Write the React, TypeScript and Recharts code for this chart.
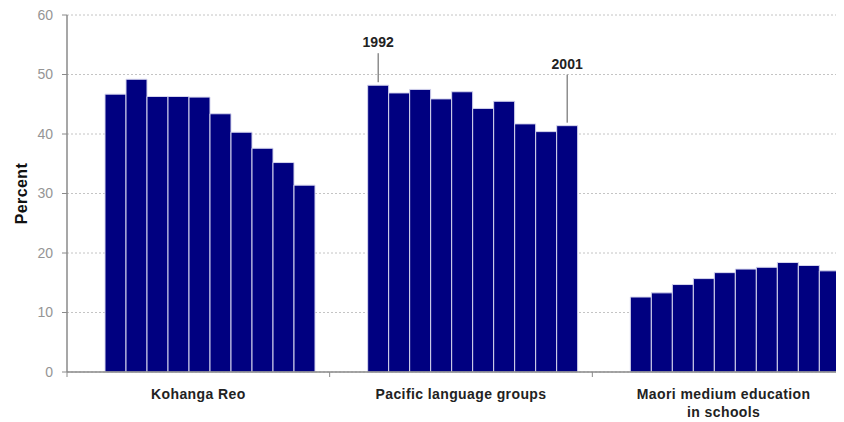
import React from 'react';
import { BarChart, Bar, XAxis, YAxis, CartesianGrid } from 'recharts';

const years = ['1992', '1993', '1994', '1995', '1996', '1997', '1998', '1999', '2000', '2001'];

const categories = ['Kohanga Reo', 'Pacific language groups', 'Maori medium education\nin schools'];

// Percent by year, one list per category
const kohangaReo = [46.7, 49.2, 46.3, 46.3, 46.2, 43.4, 40.3, 37.6, 35.2, 31.4];
const pacificGroups = [48.2, 46.9, 47.5, 45.9, 47.1, 44.3, 45.5, 41.7, 40.4, 41.4];
const maoriMedium = [12.6, 13.3, 14.7, 15.7, 16.7, 17.3, 17.6, 18.4, 17.9, 17.0];

const yTicks = [0, 10, 20, 30, 40, 50, 60];

// Year callouts above the Pacific group
const callouts = [
  { year: '1992', category: 'Pacific language groups' },
  { year: '2001', category: 'Pacific language groups' },
];

const seriesByCategory = [kohangaReo, pacificGroups, maoriMedium];

const rows = categories.map((name, i) => {
  const row: Record<string, string | number> = { name };
  years.forEach((y, j) => {
    row[y] = seriesByCategory[i][j];
  });
  return row;
});

const CHART_W = 870;
const CHART_H = 414;
const MARGIN = { top: 7, right: 23, left: 14, bottom: 10 };
const YAXIS_W = 45;
const HALF_BAND = (CHART_W - MARGIN.left - MARGIN.right - YAXIS_W) / categories.length / 2;
const FONT = '"Liberation Sans", Arial, sans-serif';
const AXIS_GREY = '#8a8a8a';
const BAR_FILL = '#000080';
const CALLOUT_RISE: Record<string, number> = { '1992': 29, '2001': 48 };

const CategoryTick = (props: any) => {
  const { x, y, payload } = props;
  const lines = String(payload.value).split('\n');
  return (
    <g>
      <line x1={x - HALF_BAND} y1={y} x2={x - HALF_BAND} y2={y + 5} stroke={AXIS_GREY} />
      <text
        x={x}
        y={y}
        textAnchor="middle"
        fontFamily={FONT}
        fontSize={14}
        fontWeight="bold"
        letterSpacing={0.4}
        fill="#222"
      >
        {lines.map((line, i) => (
          <tspan key={i} x={x} dy={i === 0 ? 27 : 18}>
            {line}
          </tspan>
        ))}
      </text>
    </g>
  );
};

const makeCallout = (year: string) => (props: any) => {
  const { x, y, width, index } = props;
  const hit = callouts.find((c) => c.year === year && categories.indexOf(c.category) === index);
  if (!hit) return null;
  const cx = x + width / 2;
  const lineBottom = y - 3;
  const lineTop = lineBottom - CALLOUT_RISE[year];
  return (
    <g>
      <line x1={cx} y1={lineBottom} x2={cx} y2={lineTop} stroke="#555" strokeWidth={1} />
      <text x={cx} y={lineTop - 6} textAnchor="middle" fontFamily={FONT} fontSize={14} fontWeight="bold" fill="#222">
        {year}
      </text>
    </g>
  );
};

const PercentLabel = (props: any) => {
  const { viewBox } = props;
  const x = viewBox.x - 1;
  const y = viewBox.y + viewBox.height / 2;
  return (
    <text
      x={x}
      y={y}
      transform={`rotate(-90, ${x}, ${y})`}
      textAnchor="middle"
      dominantBaseline="central"
      fontFamily={FONT}
      fontSize={16}
      fontWeight="bold"
      letterSpacing={0.4}
      fill="#111"
    >
      Percent
    </text>
  );
};

const App = () => {
  return (
    <div style={{ width: 836, height: CHART_H, overflow: 'hidden' }}>
      <BarChart
        width={CHART_W}
        height={CHART_H}
        data={rows}
        margin={MARGIN}
        barCategoryGap={17}
        barGap={0}
      >
        <CartesianGrid vertical={false} stroke="#c4c4c4" strokeDasharray="2 2" />
        <XAxis
          dataKey="name"
          height={40}
          interval={0}
          axisLine={{ stroke: AXIS_GREY, strokeWidth: 1.5 }}
          tickLine={false}
          tickSize={0}
          tickMargin={0}
          tick={<CategoryTick />}
        />
        <YAxis
          width={YAXIS_W}
          domain={[0, 60]}
          ticks={yTicks}
          interval={0}
          axisLine={{ stroke: AXIS_GREY, strokeWidth: 1.5 }}
          tickLine={{ stroke: AXIS_GREY }}
          tickSize={5}
          tickMargin={9}
          tick={{ fontFamily: FONT, fontSize: 14, fill: '#959595' }}
          label={<PercentLabel />}
        />
        {/* empty leading slot: each group of ten years sits right of its band centre */}
        <Bar dataKey="lead" fill={BAR_FILL} isAnimationActive={false} />
        {years.map((y) => (
          <Bar
            key={y}
            dataKey={y}
            fill={BAR_FILL}
            stroke="#d6d6ee"
            strokeWidth={1}
            isAnimationActive={false}
            label={CALLOUT_RISE[y] ? makeCallout(y) : undefined}
          />
        ))}
      </BarChart>
    </div>
  );
};

export default App;
